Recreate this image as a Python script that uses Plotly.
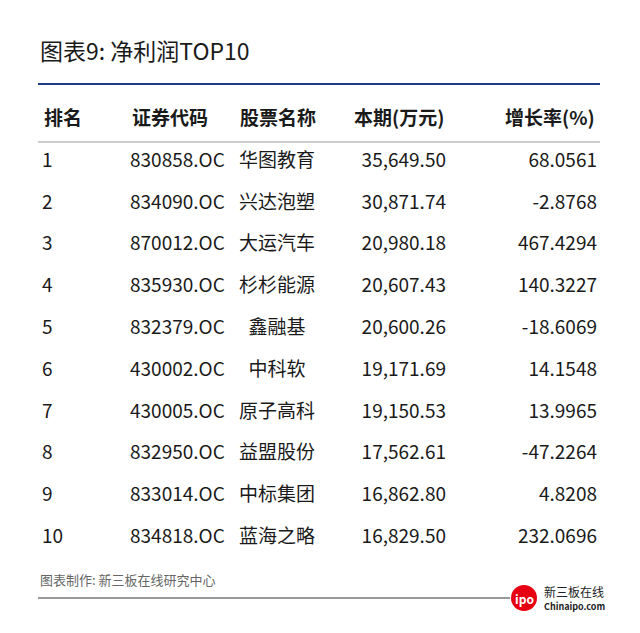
import plotly.graph_objects as go

ranks = ["1", "2", "3", "4", "5", "6", "7", "8", "9", "10"]
codes = ["830858.OC", "834090.OC", "870012.OC", "835930.OC", "832379.OC",
         "430002.OC", "430005.OC", "832950.OC", "833014.OC", "834818.OC"]
names = ["华图教育", "兴达泡塑", "大运汽车", "杉杉能源", "鑫融基",
         "中科软", "原子高科", "益盟股份", "中标集团", "蓝海之略"]
profit = [35649.50, 30871.74, 20980.18, 20607.43, 20600.26,
          19171.69, 19150.53, 17562.61, 16862.80, 16829.50]
growth = ["68.0561", "-2.8768", "467.4294", "140.3227", "-18.6069",
          "14.1548", "13.9965", "-47.2264", "4.8208", "232.0696"]
headers = ["排名", "证券代码", "股票名称", "本期(万元)", "增长率(%)"]

FONT = "Noto Sans CJK SC"
row_y = [162 + i * 41.8 for i in range(len(ranks))]

fig = go.Figure()
cols = [
    (42, ranks, "middle right"),
    (130, codes, "middle right"),
    (277, names, "middle center"),
    (446, [f"{v:,.2f}" for v in profit], "middle left"),
    (597, growth, "middle left"),
]
for x, vals, pos in cols:
    fig.add_trace(go.Scatter(x=[x] * len(vals), y=row_y, text=vals, mode="text",
                             textposition=pos,
                             textfont=dict(size=19, color="#1a1a1a", family=FONT)))

hx = [(42, "left"), (130, "left"), (238, "left"), (446, "right"), (597, "right")]
for (x, a), h in zip(hx, headers):
    fig.add_annotation(x=x, y=116, text=f"<b>{h}</b>", showarrow=False, xanchor=a,
                       font=dict(size=19, color="#1a1a1a", family=FONT))

fig.add_annotation(x=38, y=50, text="图表9: 净利润TOP10", showarrow=False, xanchor="left",
                   font=dict(size=23, color="#1a1a1a", family=FONT))
fig.add_annotation(x=38, y=579, text="图表制作: 新三板在线研究中心", showarrow=False, xanchor="left",
                   font=dict(size=13, color="#666666", family=FONT))
fig.add_annotation(x=542, y=591, text="新三板在线", showarrow=False, xanchor="left",
                   font=dict(size=12, color="#222222", family=FONT))
fig.add_annotation(x=542, y=606, text="<b>Chinaipo.com</b>", showarrow=False, xanchor="left",
                   font=dict(size=9, color="#222222", family=FONT))
fig.add_annotation(x=524, y=598, text="<b>ipo</b>", showarrow=False,
                   font=dict(size=12, color="white", family=FONT))

fig.add_shape(type="line", x0=38, x1=600, y0=84, y1=84, line=dict(color="#1f3c88", width=2))
fig.add_shape(type="line", x0=38, x1=600, y0=142, y1=142, line=dict(color="#999999", width=1))
fig.add_shape(type="line", x0=38, x1=510, y0=598, y1=598, line=dict(color="#333333", width=1))
fig.add_shape(type="circle", x0=511, x1=537, y0=585, y1=611, fillcolor="#e60012", line=dict(width=0))

fig.update_layout(width=640, height=633, margin=dict(l=0, r=0, t=0, b=0),
                  plot_bgcolor="white", paper_bgcolor="white", showlegend=False)
fig.update_xaxes(range=[8, 648], visible=False, fixedrange=True)
fig.update_yaxes(range=[641, 8], visible=False, fixedrange=True)
fig.write_html("out.html")
